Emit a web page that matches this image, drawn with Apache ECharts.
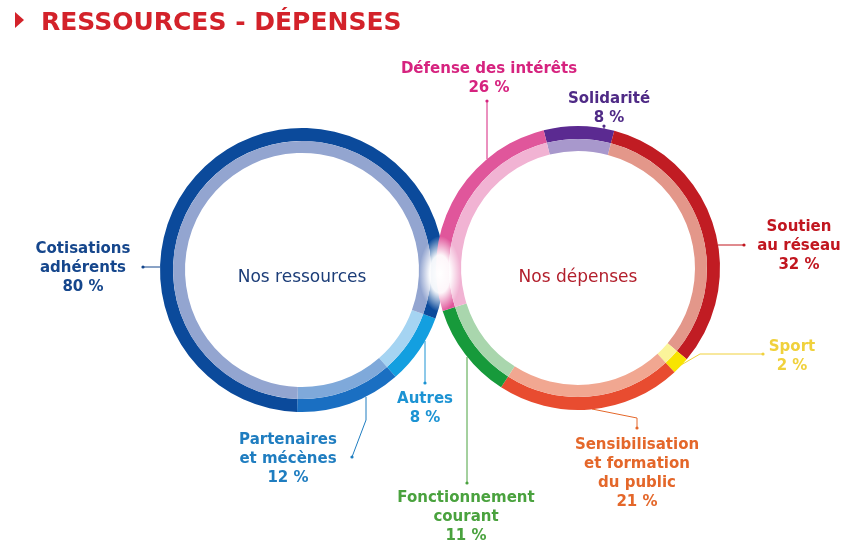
<!DOCTYPE html>
<html>
<head>
<meta charset="utf-8">
<script src="https://cdn.jsdelivr.net/npm/echarts@6/dist/echarts.min.js"></script>
<style>
  html, body { margin: 0; padding: 0; background: #fff; }
  #chart { width: 848px; height: 547px; }
</style>
</head>
<body>
<div id="chart"></div>
<script>
// ressources (left ring), clockwise from the crossing
const resNames = ['Autres', 'Partenaires\net mécènes', 'Cotisations\nadhérents'];
const resValues = [8, 12, 80];
// dépenses (right ring), clockwise from the top
const depNames = ['Solidarité', 'Soutien\nau réseau', 'Sport', 'Sensibilisation\net formation\ndu public', 'Fonctionnement\ncourant', 'Défense des intérêts'];
const depValues = [8, 32, 2, 21, 11, 26];

// colours: outer band, inner band, label
const resDark = ['#139fe0', '#1a6fc2', '#0b4a9b'];
const resLight = ['#a5d4f2', '#7fa9da', '#93a5d0'];
const resText = ['#1c93d3', '#1f7dc0', '#15468c'];
const depDark = ['#5b2a91', '#c11c23', '#f8e400', '#e84c30', '#179a3b', '#e0569b'];
const depLight = ['#a898cc', '#e3978a', '#fbf49a', '#f1a791', '#a9d6ad', '#f1b3d3'];
const depText = ['#4f2a86', '#c1161f', '#f0d13c', '#e4672a', '#4aa23e', '#d6237f'];

// label placement (top-centre of text block) and leader line points
const resLabelPos = [
  { x: 425, y: 390, line: [[425, 341], [425, 362], [425, 383]] },
  { x: 288, y: 431, line: [[366, 397], [366, 420], [352, 457]] },
  { x: 83, y: 240, line: [[160, 267], [151, 267], [143, 267]] }
];
const depLabelPos = [
  { x: 609, y: 90, line: [[604, 129], [604, 128], [604, 126]] },
  { x: 799, y: 218, line: [[718, 245], [731, 245], [744, 245]] },
  { x: 792, y: 338, line: [[681, 365], [700, 354], [763, 354]] },
  { x: 637, y: 436, line: [[592, 409], [637, 418], [637, 428]] },
  { x: 466, y: 489, line: [[467, 357], [467, 420], [467, 483]] },
  { x: 489, y: 60, line: [[487, 159], [487, 130], [487, 101]] }
];

const resCenter = [302, 270];
const depCenter = [578, 268];

function ringData(names, values, colors, textColors) {
  return names.map(function (n, i) {
    return {
      name: n,
      value: values[i],
      itemStyle: { color: colors[i] },
      label: { color: textColors ? textColors[i] : colors[i] },
      labelLine: { lineStyle: { color: textColors ? textColors[i] : colors[i] } }
    };
  });
}

const labelStyle = {
  show: true,
  position: 'outside',
  formatter: '{b}\n{c} %',
  fontFamily: 'DejaVu Sans',
  fontWeight: 'bold',
  fontSize: 15,
  lineHeight: 19,
  align: 'center'
};

function outerSeries(center, startAngle, names, values, dark, text, pos) {
  return {
    type: 'pie',
    center: center,
    radius: [129, 142],
    startAngle: startAngle,
    clockwise: true,
    avoidLabelOverlap: false,
    emphasis: { disabled: true },
    label: labelStyle,
    labelLine: { show: true, lineStyle: { width: 1 } },
    labelLayout: function (params) {
      const p = pos[params.dataIndex];
      return {
        x: p.x, y: p.y, align: 'center', verticalAlign: 'top',
        labelLinePoints: p.line
      };
    },
    data: ringData(names, values, dark, text)
  };
}

function innerSeries(center, startAngle, names, values, light) {
  return {
    type: 'pie',
    center: center,
    radius: [117, 129],
    startAngle: startAngle,
    clockwise: true,
    silent: true,
    emphasis: { disabled: true },
    label: { show: false },
    labelLine: { show: false },
    data: ringData(names, values, light)
  };
}

const dots = [];
resLabelPos.concat(depLabelPos).forEach(function (p, i) {
  const end = p.line[2];
  const c = i < resLabelPos.length ? resText[i] : depText[i - resLabelPos.length];
  dots.push({ type: 'circle', shape: { cx: end[0], cy: end[1], r: 1.6 }, style: { fill: c }, z: 10 });
});

const chart = echarts.init(document.getElementById('chart'));
chart.setOption({
  animation: false,
  title: {
    text: 'RESSOURCES - DÉPENSES',
    left: 36,
    top: 6,
    textStyle: { fontFamily: 'DejaVu Sans', fontWeight: 'bold', fontSize: 25, color: '#d3222a' }
  },
  graphic: [
    { type: 'polygon', shape: { points: [[15, 12], [24, 20], [15, 28]] }, style: { fill: '#d3222a' } },
    {
      type: 'circle', shape: { cx: 0, cy: 0, r: 38 }, x: 440, y: 274, scaleX: 0.55, z: 50,
      style: {
        fill: {
          type: 'radial', x: 0.5, y: 0.5, r: 0.5,
          colorStops: [
            { offset: 0, color: 'rgba(255,255,255,1)' },
            { offset: 0.5, color: 'rgba(255,255,255,0.95)' },
            { offset: 1, color: 'rgba(255,255,255,0)' }
          ]
        }
      }
    },
    { type: 'text', x: resCenter[0], y: 278, z: 60, style: { text: 'Nos ressources', fontFamily: 'DejaVu Sans', fontSize: 17, fill: '#1c3d78', align: 'center', verticalAlign: 'middle' } },
    { type: 'text', x: depCenter[0], y: 278, z: 60, style: { text: 'Nos dépenses', fontFamily: 'DejaVu Sans', fontSize: 17, fill: '#b21f2c', align: 'center', verticalAlign: 'middle' } }
  ].concat(dots),
  series: [
    outerSeries(resCenter, -20, resNames, resValues, resDark, resText, resLabelPos),
    innerSeries(resCenter, -20, resNames, resValues, resLight),
    outerSeries(depCenter, 104, depNames, depValues, depDark, depText, depLabelPos),
    innerSeries(depCenter, 104, depNames, depValues, depLight)
  ]
});
</script>
</body>
</html>
